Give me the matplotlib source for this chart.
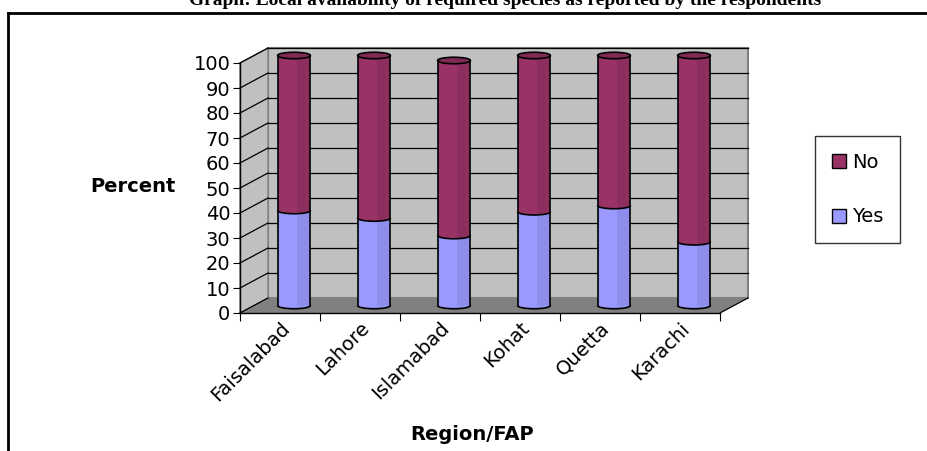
import matplotlib.pyplot as plt
from matplotlib.patches import Polygon, Rectangle, Ellipse, Arc, Patch

plt.rcParams['font.family'] = ['DejaVu Sans']

regions = ['Faisalabad', 'Lahore', 'Islamabad', 'Kohat', 'Quetta', 'Karachi']
yes = [38, 35, 28, 37.5, 40, 25.5]
no = [62, 65, 70, 62.5, 60, 74.5]

yes_color = '#9999FF'
no_color = '#993366'

# depth of the pseudo-3D box, in data units
dx, dy = 0.35, 6
bar_w = 0.41
ell_h = 2.6

fig = plt.figure(figsize=(9.28, 4.51), dpi=100)
W, H = 928, 451
ax = fig.add_axes([240 / W, (H - 313) / H, 480 / W, 250 / H])
ax.set_xlim(-0.5, len(regions) - 0.5)
ax.set_ylim(0, 100)
x0, x1 = -0.5, len(regions) - 0.5

# walls and floor
ax.add_patch(Polygon([[x0 + dx, dy], [x1 + dx, dy], [x1 + dx, 100 + dy], [x0 + dx, 100 + dy]],
                     closed=True, facecolor='#C0C0C0', edgecolor='#808080', lw=1.5,
                     clip_on=False, zorder=0))
ax.add_patch(Polygon([[x0, 0], [x0, 100], [x0 + dx, 100 + dy], [x0 + dx, dy]],
                     closed=True, facecolor='#C0C0C0', edgecolor='#808080', lw=1,
                     clip_on=False, zorder=0))
for v in range(10, 101, 10):
    ax.plot([x0 + dx, x1 + dx], [v + dy, v + dy], color='black', lw=0.9, zorder=1, clip_on=False)
    ax.plot([x0, x0 + dx], [v, v + dy], color='black', lw=0.9, zorder=1, clip_on=False)
ax.add_patch(Polygon([[x0, 0], [x1, 0], [x1 + dx, dy], [x0 + dx, dy]],
                     closed=True, facecolor='#808080', edgecolor='none',
                     clip_on=False, zorder=1))
ax.plot([x0, x0 + dx], [0, dy], color='black', lw=0.9, zorder=1, clip_on=False)
ax.plot([x1, x1 + dx], [0, dy], color='black', lw=0.9, zorder=1, clip_on=False)

# cylinders
for i, (y_val, n_val) in enumerate(zip(yes, no)):
    c = i + dx / 2
    base = dy / 2
    mid = base + y_val
    top = mid + n_val
    left = c - bar_w / 2
    parts = [
        Ellipse((c, base), bar_w, ell_h, facecolor=yes_color, edgecolor='none', zorder=3),
        Rectangle((left, base), bar_w, y_val, facecolor=yes_color, edgecolor='none', zorder=3),
        Ellipse((c, mid), bar_w, ell_h, facecolor=no_color, edgecolor='none', zorder=4),
        Rectangle((left, mid), bar_w, n_val, facecolor=no_color, edgecolor='none', zorder=4),
        # darker right side of the cylinder
        Rectangle((c + 0.04, base), bar_w / 2 - 0.04, y_val, facecolor='black',
                  alpha=0.08, edgecolor='none', zorder=5),
        Rectangle((c + 0.04, mid), bar_w / 2 - 0.04, n_val, facecolor='black',
                  alpha=0.08, edgecolor='none', zorder=5),
        Ellipse((c, top), bar_w, ell_h, facecolor='#7F2A55', edgecolor='black', lw=1.2, zorder=6),
        Arc((c, base), bar_w, ell_h, theta1=180, theta2=360, color='black', lw=1.2, zorder=6),
        Arc((c, mid), bar_w, ell_h, theta1=180, theta2=360, color='black', lw=1.2, zorder=6),
    ]
    for p in parts:
        p.set_clip_on(False)
        ax.add_patch(p)
    ax.plot([left, left], [base, top], color='black', lw=1.2, zorder=6, clip_on=False)
    ax.plot([left + bar_w, left + bar_w], [base, top], color='black', lw=1.2, zorder=6, clip_on=False)

# axes styling
for s in ['top', 'right']:
    ax.spines[s].set_visible(False)
ax.spines['left'].set_linewidth(1)
ax.spines['bottom'].set_linewidth(1)
ax.set_yticks(range(0, 101, 10))
ax.tick_params(axis='y', direction='out', length=5, labelsize=14, pad=2)
ax.set_xticks([k - 0.5 for k in range(len(regions) + 1)])
ax.set_xticklabels([])
ax.tick_params(axis='x', which='major', direction='out', length=6)
ax.set_xticks(range(len(regions)), minor=True)
ax.set_xticklabels(regions, minor=True, rotation=45, ha='right', rotation_mode='anchor', fontsize=14)
ax.tick_params(axis='x', which='minor', length=0, pad=4)
ax.set_facecolor('none')

fig.text(133 / W, 1 - 186 / H, 'Percent', fontsize=14, fontweight='bold', ha='center', va='center')
fig.text(472 / W, 1 - 435 / H, 'Region/FAP', fontsize=14, fontweight='bold', ha='center', va='center')

fig.text(505 / W, 1 - 5 / H,
         'Graph: Local availability of required species as reported by the respondents',
         family='Liberation Serif', fontweight='bold', fontsize=14, ha='center', va='baseline')

# outer frame (top and left edges)
fig.add_artist(plt.Line2D([8 / W, 1], [1 - 13 / H, 1 - 13 / H], color='black', lw=2))
fig.add_artist(plt.Line2D([8 / W, 8 / W], [1 - 13 / H, 0], color='black', lw=2))

handles = [Patch(facecolor=no_color, edgecolor='black', label='No'),
           Patch(facecolor=yes_color, edgecolor='black', label='Yes')]
leg = fig.legend(handles=handles, loc='upper left', bbox_to_anchor=(815 / W, 1 - 136 / H),
                 fontsize=14, frameon=True, fancybox=False, edgecolor='black',
                 handlelength=0.75, handleheight=0.75, handletextpad=0.3,
                 labelspacing=1.85, borderpad=0.85, borderaxespad=0)
leg.get_frame().set_linewidth(1)

fig.savefig('out.png', dpi=100)
